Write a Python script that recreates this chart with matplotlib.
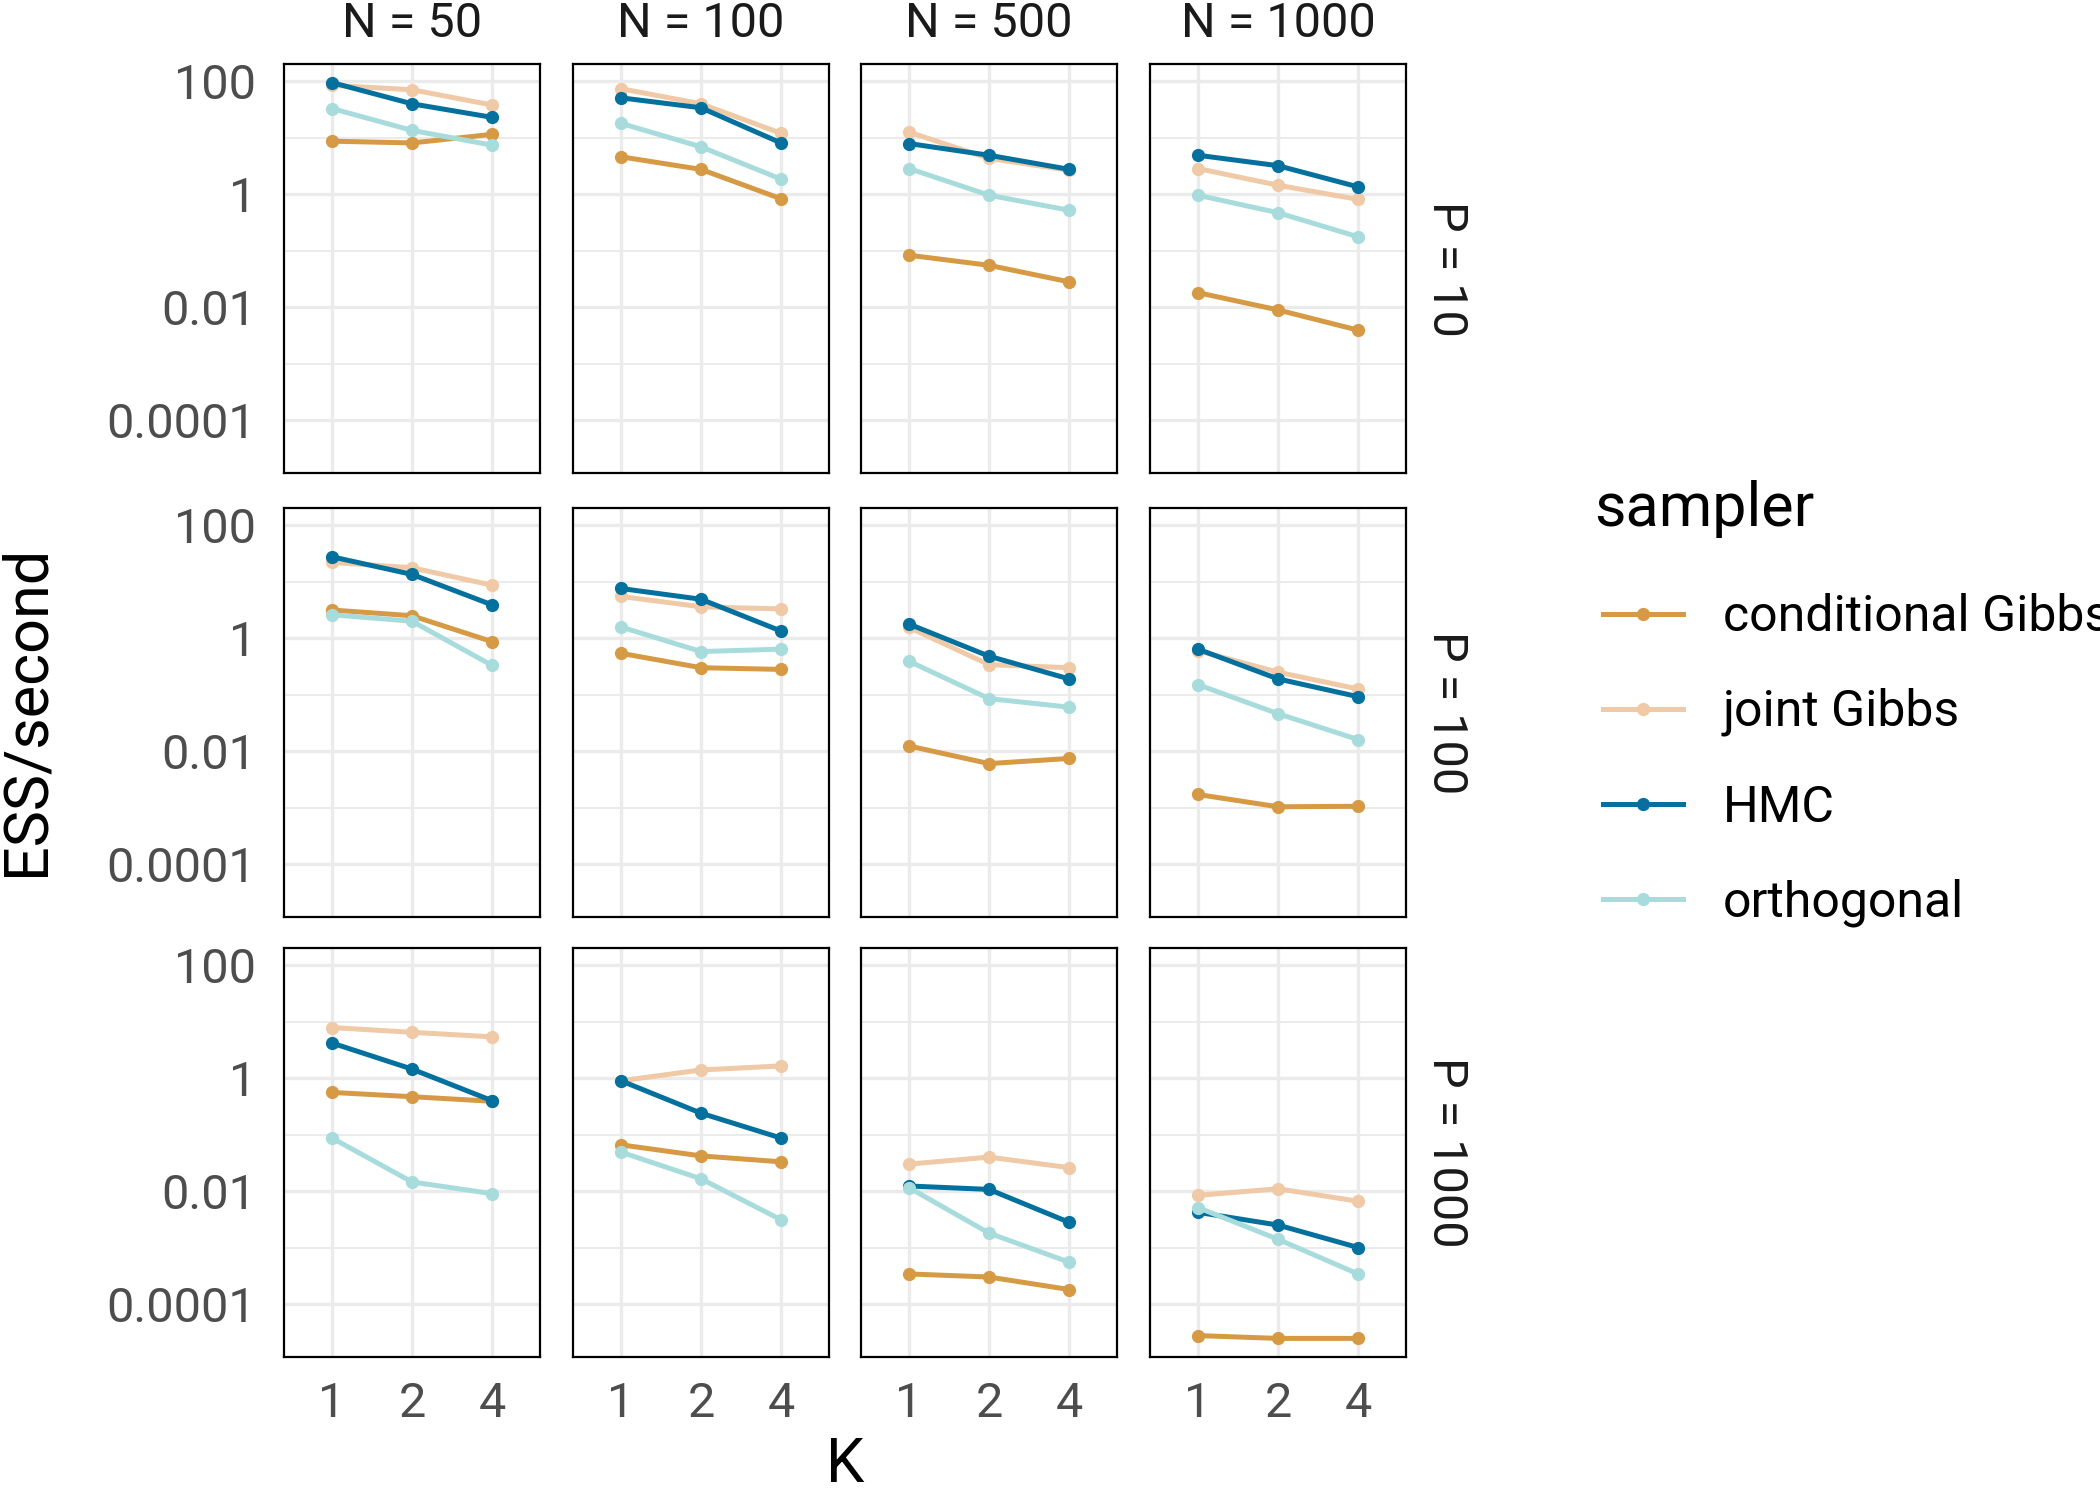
import numpy as np
import matplotlib
matplotlib.use("Agg")
import matplotlib.pyplot as plt
from matplotlib.lines import Line2D

plt.rcParams['font.family'] = ['Roboto', 'DejaVu Sans']

N_values = [50, 100, 500, 1000]
P_values = [10, 100, 1000]
K_labels = ["1", "2", "4"]
samplers = ["conditional Gibbs", "joint Gibbs", "HMC", "orthogonal"]
colors = ["#D69A45", "#F0C9A6", "#04709E", "#A8DCDC"]

# ESS/second, indexed [P][N][K]
cond_gibbs = [
    [[8.7, 8.1, 11.5], [4.6, 2.75, 0.83], [0.083, 0.055, 0.028], [0.018, 0.0089, 0.0039]],
    [[3.16, 2.5, 0.87], [0.54, 0.30, 0.28], [0.0123, 0.0060, 0.0074], [0.0017, 0.00103, 0.00105]],
    [[0.56, 0.47, 0.39], [0.066, 0.042, 0.033], [0.00034, 0.00030, 0.00018], [2.75e-5, 2.45e-5, 2.45e-5]],
]
joint_gibbs = [
    [[85, 71, 38], [74, 40, 12], [12.6, 4.3, 2.66], [2.85, 1.44, 0.81]],
    [[22, 17.7, 8.7], [5.5, 3.6, 3.3], [1.55, 0.34, 0.30], [0.60, 0.25, 0.126]],
    [[7.9, 6.5, 5.4], [0.9, 1.4, 1.65], [0.030, 0.040, 0.026], [0.0084, 0.011, 0.0066]],
]
hmc = [
    [[95, 40, 23], [51, 34, 8.1], [7.9, 4.9, 2.76], [4.9, 3.2, 1.35]],
    [[27.7, 13.5, 3.9], [7.6, 4.9, 1.34], [1.78, 0.48, 0.19], [0.64, 0.19, 0.092]],
    [[4.2, 1.45, 0.40], [0.9, 0.24, 0.087], [0.0123, 0.0107, 0.0028], [0.0042, 0.0025, 0.001]],
]
orthogonal = [
    [[33, 13.5, 7.4], [18, 6.9, 1.85], [2.85, 0.96, 0.52], [0.96, 0.47, 0.176]],
    [[2.6, 2.0, 0.33], [1.58, 0.58, 0.64], [0.39, 0.085, 0.060], [0.15, 0.046, 0.016]],
    [[0.087, 0.0145, 0.009], [0.049, 0.0165, 0.0031], [0.0115, 0.0018, 0.00055], [0.0051, 0.0014, 0.00034]],
]
series = [cond_gibbs, joint_gibbs, hmc, orthogonal]

W, H = 2100, 1492
fig = plt.figure(figsize=(W / 100, H / 100), dpi=100)

# panel layout in pixels
col_left = [284, 573, 861, 1150]
row_top = [64, 508, 948]
pw, ph = 256, 409

# shared log y-range with 5% expansion like ggplot
all_vals = np.concatenate([np.ravel(s) for s in series])
lo, hi = np.log10(all_vals.min()), np.log10(all_vals.max())
pad = 0.05 * (hi - lo)
ylim = (10 ** (lo - pad), 10 ** (hi + pad))

xs = np.arange(len(K_labels))
tick_col = "#4D4D4D"
strip_col = "#1A1A1A"
grid_col = "#EBEBEB"
small = 35
big = 44

for i, P in enumerate(P_values):
    for j, N in enumerate(N_values):
        left = col_left[j] / W
        bottom = 1 - (row_top[i] + ph) / H
        ax = fig.add_axes([left, bottom, pw / W, ph / H])
        for s, name, c in zip(series, samplers, colors):
            ax.plot(xs, s[i][j], '-o', color=c, lw=3.6, ms=8.5, label=name)
        ax.set_yscale('log')
        ax.set_ylim(*ylim)
        ax.set_xlim(-0.6, 2.6)
        ax.set_yticks([1e-4, 1e-2, 1, 100])
        ax.set_yticks([1e-3, 1e-1, 10], minor=True)
        ax.set_xticks(xs)
        if j == 0:
            ax.set_yticklabels(["0.0001", "0.01", "1", "100"])
        else:
            ax.set_yticklabels([])
        ax.set_yticklabels([], minor=True)
        if i == len(P_values) - 1:
            ax.set_xticklabels(K_labels)
        else:
            ax.set_xticklabels([])
        ax.tick_params(which='both', length=0, labelsize=small, labelcolor=tick_col)
        ax.tick_params(axis='y', pad=20)
        ax.tick_params(axis='x', pad=17)
        ax.grid(which='major', color=grid_col, lw=2.4)
        ax.grid(which='minor', axis='y', color=grid_col, lw=1.4)
        ax.set_axisbelow(True)
        for sp in ax.spines.values():
            sp.set_color('black')
            sp.set_linewidth(1.6)
        if i == 0:
            ax.text(0.5, 1 + 40 / ph, f"N = {N}", transform=ax.transAxes,
                    ha='center', va='center', fontsize=small, color=strip_col)
        if j == len(N_values) - 1:
            ax.text(1 + 40 / pw, 0.5, f"P = {P}", transform=ax.transAxes,
                    ha='center', va='center', rotation=-90, fontsize=small, color=strip_col)

fig.text(27 / W, 1 - 710 / H, "ESS/second", rotation=90, ha='center', va='center',
         fontsize=big, color='black')
fig.text(845 / W, 1 - 1465 / H, "K", ha='center', va='center', fontsize=big, color='black')

# legend: title as separate text, entries via fig.legend
fig.text(1594 / W, 1 - 509 / H, "sampler", ha='left', va='center', fontsize=big, color='black')
handles = [Line2D([], [], color=c, lw=3.6, marker='o', ms=8.5) for c in colors]
leg = fig.legend(handles, samplers, loc='upper left', bbox_to_anchor=(1603 / W, 1 - 593 / H),
                 frameon=False, fontsize=36, handlelength=1.6, handletextpad=0.8,
                 labelspacing=0.94, borderpad=0, borderaxespad=0)

fig.savefig("out.png", dpi=100)
